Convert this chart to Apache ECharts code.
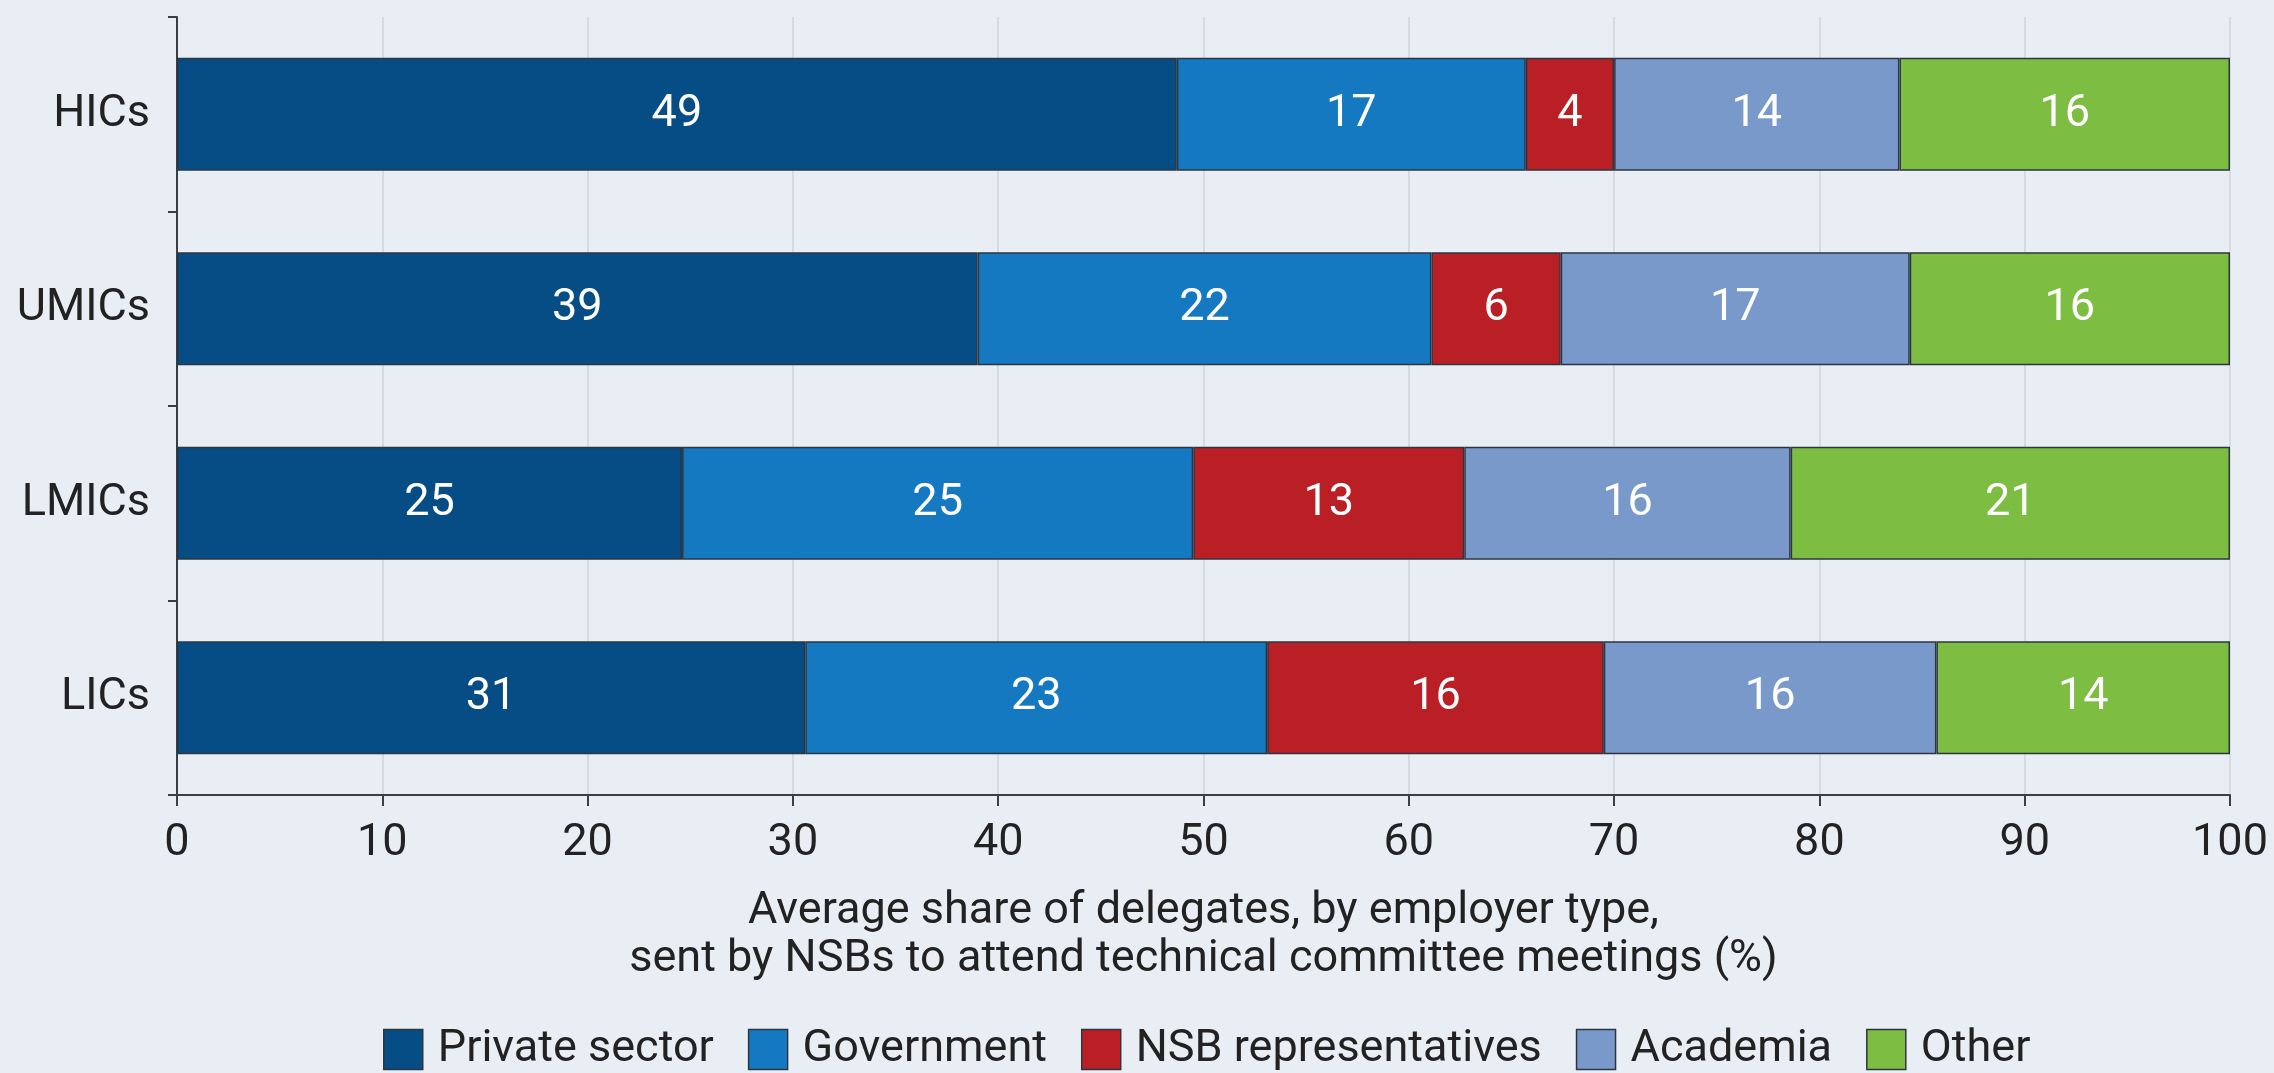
<!DOCTYPE html>
<html>
<head>
<meta charset="utf-8">
<script src="https://cdn.jsdelivr.net/npm/echarts@6/dist/echarts.min.js"></script>
<style>
html,body{margin:0;padding:0;background:#e9eef4;}
#chart{width:2274px;height:1073px;}
</style>
</head>
<body>
<div id="chart"></div>
<script>
const categories = ['HICs', 'UMICs', 'LMICs', 'LICs'];
const privateSector = [48.7, 39.0, 24.6, 30.6];
const government = [17.0, 22.1, 24.9, 22.5];
const nsbRepresentatives = [4.3, 6.3, 13.2, 16.4];
const academia = [13.9, 17.0, 15.9, 16.2];
const other = [16.1, 15.6, 21.4, 14.3];
const xTicks = [0, 10, 20, 30, 40, 50, 60, 70, 80, 90, 100];
const seriesNames = ['Private sector', 'Government', 'NSB representatives', 'Academia', 'Other'];
const colors = ['#064d85', '#1479c1', '#bb1f26', '#7a99cb', '#7cbd42'];
const axisTitle = 'Average share of delegates, by employer type,\nsent by NSBs to attend technical committee meetings (%)';

const FONT = 'Roboto';
const seriesData = [privateSector, government, nsbRepresentatives, academia, other];

const chart = echarts.init(document.getElementById('chart'), null, {renderer: 'canvas'});
chart.setOption({
  backgroundColor: '#e9eef4',
  animation: false,
  textStyle: {fontFamily: FONT},
  grid: {left: 177, right: 44, top: 17, bottom: 278, containLabel: false},
  legend: {
    top: 1022,
    left: 378,
    padding: 5,
    itemWidth: 39,
    itemHeight: 40,
    itemGap: 34,
    icon: 'rect',
    textStyle: {fontFamily: FONT, fontSize: 45, color: '#222', padding: [0, 0, 0, 10]},
    data: seriesNames.map((n, i) => ({name: n, itemStyle: {color: colors[i], borderColor: '#2c3640', borderWidth: 1.5}}))
  },
  xAxis: {
    type: 'value',
    min: xTicks[0],
    max: xTicks[xTicks.length - 1],
    interval: 10,
    name: axisTitle,
    nameLocation: 'middle',
    nameGap: 93,
    nameTextStyle: {fontFamily: FONT, fontSize: 45, color: '#222', lineHeight: 48},
    axisLine: {show: true, lineStyle: {color: '#3a3f45', width: 2}},
    axisTick: {show: true, length: 11, lineStyle: {color: '#3a3f45', width: 2}},
    axisLabel: {fontFamily: FONT, fontSize: 45, color: '#222', margin: 26},
    splitLine: {show: true, lineStyle: {color: '#cfd5dc', width: 1.5}}
  },
  yAxis: {
    type: 'category',
    data: categories,
    inverse: true,
    axisLine: {show: true, lineStyle: {color: '#3a3f45', width: 2}},
    axisTick: {show: true, length: 9, lineStyle: {color: '#3a3f45', width: 2}},
    axisLabel: {fontFamily: FONT, fontSize: 45, color: '#222', margin: 27},
    splitLine: {show: false}
  },
  series: seriesNames.map((name, i) => ({
    name: name,
    type: 'bar',
    stack: 'total',
    barWidth: 113,
    data: seriesData[i],
    itemStyle: {color: colors[i], borderColor: '#2c3640', borderWidth: 1.5},
    label: {
      show: true,
      position: 'inside',
      color: '#ffffff',
      fontFamily: FONT,
      fontSize: 45,
      formatter: p => Math.round(p.value)
    },
    emphasis: {disabled: true}
  }))
});
</script>
</body>
</html>
